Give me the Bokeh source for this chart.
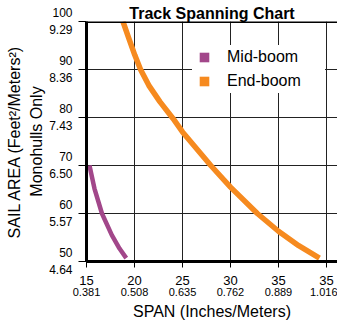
from bokeh.plotting import figure
from bokeh.models import (Range1d, FixedTicker, LinearAxis, Legend, LegendItem,
                          Grid, ColumnDataSource, Span)
from bokeh.embed import file_html
from bokeh.resources import INLINE

# ---- data -------------------------------------------------------------
span_ticks = [15, 20, 25, 30, 35, 40]
span_labels = ["15", "20", "25", "30", "35", "35"]
span_metric = ["0.381", "0.508", "0.635", "0.762", "0.889", "1.016"]

area_ticks = [50, 60, 70, 80, 90, 100]
area_labels = ["50", "60", "70", "80", "90", "100"]
area_metric = ["4.64", "5.57", "6.50", "7.43", "8.36", "9.29"]

mid_span = [15.31, 15.83, 16.61, 17.64, 18.44, 19.14]
mid_area = [70.0, 65.2, 60.0, 55.5, 52.7, 50.7]

end_span = [18.8, 19.41, 20.03, 20.63, 21.49, 22.64, 24.01, 25.0, 27.95,
            30.0, 32.8, 35.0, 37.11, 39.27]
end_area = [100.0, 96.5, 93.0, 90.0, 86.7, 83.3, 79.8, 77.0, 70.0,
            65.5, 60.0, 56.3, 53.3, 50.7]

series_names = ["Mid-boom", "End-boom"]
PURPLE = "#A2478A"
ORANGE = "#F68A1F"
FONT = "Liberation Sans"

# ---- figure -----------------------------------------------------------
p = figure(width=337, height=323, output_backend="svg", toolbar_location=None,
           x_range=Range1d(15, 41.15), y_range=Range1d(50, 100),
           x_axis_type=None, y_axis_type=None,
           title="Track Spanning Chart",
           min_border_left=86, min_border_right=0,
           min_border_top=21, min_border_bottom=62)
p.outline_line_color = None
p.background_fill_color = "white"

p.title.align = "center"
p.title.offset = 5
p.title.standoff = 0
p.title.text_font = FONT
p.title.text_font_style = "bold"
p.title.text_font_size = "16px"
p.title.text_color = "black"

xt = FixedTicker(ticks=span_ticks)
yt = FixedTicker(ticks=area_ticks)

p.add_layout(Grid(dimension=0, ticker=xt, grid_line_color="#222222", grid_line_width=1))
p.add_layout(Grid(dimension=1, ticker=yt, grid_line_color="#222222", grid_line_width=1))

# x axis (inches)
xa = LinearAxis(ticker=xt,
                major_label_overrides={t: l for t, l in zip(span_ticks, span_labels)})
xa.axis_line_width = 3
xa.axis_line_color = "black"
xa.major_tick_out = 6
xa.major_tick_in = 0
xa.major_tick_line_color = "black"
xa.minor_tick_line_color = None
xa.major_label_standoff = 8
xa.major_label_text_font = FONT
xa.major_label_text_font_size = "13px"
xa.major_label_text_color = "black"
p.add_layout(xa, "below")

# x axis (meters)
xm = LinearAxis(ticker=xt,
                major_label_overrides={t: l for t, l in zip(span_ticks, span_metric)})
xm.axis_line_color = None
xm.major_tick_line_color = None
xm.minor_tick_line_color = None
xm.major_tick_out = 0
xm.major_tick_in = 0
xm.major_label_standoff = 0
xm.major_label_text_font = FONT
xm.major_label_text_font_size = "11px"
xm.major_label_text_color = "black"
xm.axis_label = "SPAN (Inches/Meters)"
xm.axis_label_standoff = 4
xm.axis_label_text_font = FONT
xm.axis_label_text_font_size = "16px"
xm.axis_label_text_font_style = "normal"
xm.axis_label_text_color = "black"
p.add_layout(xm, "below")

# y axis (ticks, two-line labels, inner title line)
ya = LinearAxis(ticker=yt,
                major_label_overrides={t: f"{a}\n{m}" for t, a, m in
                                       zip(area_ticks, area_labels, area_metric)})
ya.axis_line_width = 3
ya.axis_line_color = "black"
ya.major_tick_out = 8
ya.major_tick_in = 0
ya.major_tick_line_color = "black"
ya.minor_tick_line_color = None
ya.major_label_standoff = 6
ya.major_label_text_font = FONT
ya.major_label_text_font_size = "12px"
ya.major_label_text_color = "black"
ya.axis_label = "Monohulls Only"
ya.axis_label_standoff = 1
ya.axis_label_text_font = FONT
ya.axis_label_text_font_size = "16px"
ya.axis_label_text_font_style = "normal"
ya.axis_label_text_color = "black"
p.add_layout(ya, "left")

# y axis outer title line
ya2 = LinearAxis(ticker=FixedTicker(ticks=[]))
ya2.axis_line_color = None
ya2.major_tick_line_color = None
ya2.minor_tick_line_color = None
ya2.major_tick_out = 0
ya2.major_label_standoff = 0
ya2.major_label_text_font_size = "0px"
ya2.axis_label = "SAIL AREA (Feet\u00b2/Meters\u00b2)"
ya2.axis_label_standoff = 3
ya2.axis_label_text_font = FONT
ya2.axis_label_text_font_size = "16px"
ya2.axis_label_text_font_style = "normal"
ya2.axis_label_text_color = "black"
p.add_layout(ya2, "left")

# top border of the plot area
p.add_layout(Span(location=p.y_range.end, dimension="width",
                  line_color="black", line_width=3))

# curves
mid_src = ColumnDataSource(dict(x=mid_span, y=mid_area))
end_src = ColumnDataSource(dict(x=end_span, y=end_area))
p.line("x", "y", source=mid_src, line_color=PURPLE, line_width=4.5,
       line_cap="butt", line_join="round")
p.line("x", "y", source=end_src, line_color=ORANGE, line_width=5.5,
       line_cap="butt", line_join="round")

# legend swatches: square markers shown only in the legend
mid_sw = p.scatter("x", "y", source=mid_src, marker="square",
                   fill_color=PURPLE, line_color=None, visible=False)
end_sw = p.scatter("x", "y", source=end_src, marker="square",
                   fill_color=ORANGE, line_color=None, visible=False)

legend = Legend(items=[LegendItem(label=series_names[0], renderers=[mid_sw]),
                       LegendItem(label=series_names[1], renderers=[end_sw])],
                location=(106, 168), orientation="vertical",
                click_policy="none", inactive_fill_alpha=0.0,
                background_fill_color="white", background_fill_alpha=1.0,
                border_line_color=None, padding=8, spacing=0, margin=0,
                glyph_width=24, glyph_height=24, label_standoff=11,
                label_width=98, label_text_font=FONT,
                label_text_font_size="16px", label_text_color="black")
p.add_layout(legend)

open("out.html", "w").write(file_html(p, INLINE))
